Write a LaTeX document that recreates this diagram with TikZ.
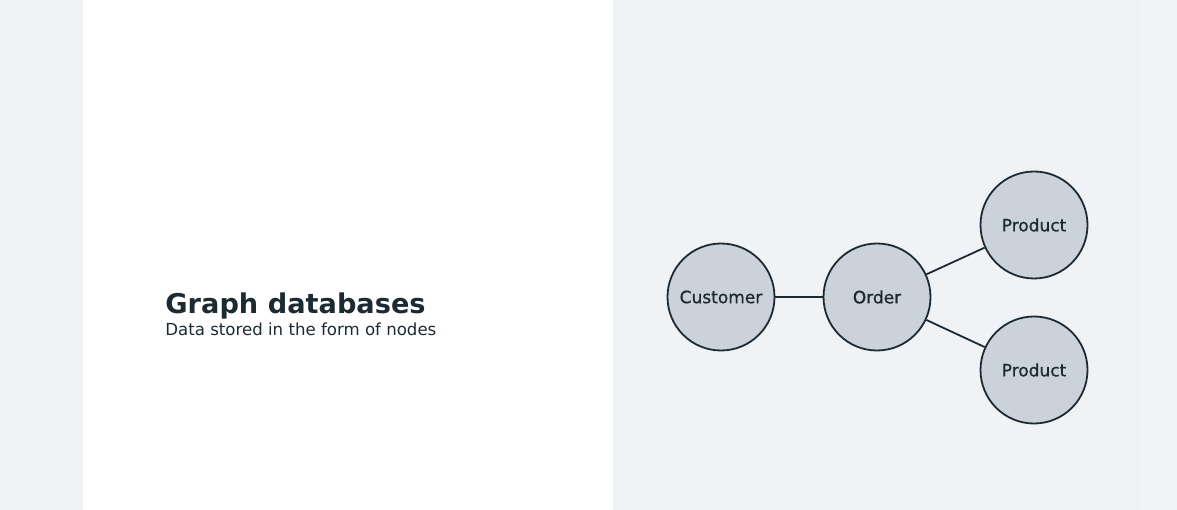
\documentclass[tikz,border=0pt]{standalone}
\usepackage{fontspec}
\setmainfont{DejaVu Sans}
\newfontfamily\labelfont{DejaVu Sans}[FakeBold=0.9]
\definecolor{ink}{HTML}{1C2B33}
\definecolor{bg}{HTML}{F0F3F6}
\definecolor{strip}{HTML}{F2F5F8}
\definecolor{nodefill}{HTML}{CBD2D9}
\begin{document}
\begin{tikzpicture}[x=1pt, y=-1pt, thick, main/.style = {draw = ink, circle, fill=nodefill, line width=1.8pt, minimum size=107pt, inner sep=0pt, text=ink, font=\labelfont\fontsize{17}{20}\selectfont}
            ]
            \useasboundingbox (0,0) rectangle (1177,510);
            \fill[bg] (0,0) rectangle (1177,510);
            \fill[white] (83,0) rectangle (613,510);
            \fill[strip] (1142,0) rectangle (1177,510);

            \node[anchor=base west, inner sep=0pt, text=ink, font=\fontsize{27.2}{30}\selectfont\bfseries] (title) at (165,313) {Graph databases};
            \node[anchor=base west, inner sep=0pt, text=ink, font=\fontsize{16.6}{19}\selectfont] (sub) at (165,335) {Data stored in the form of nodes};

            \node[main] (0) at (721, 297) {Customer};
            \node[main] (1) at (877, 297) {Order};
            \node[main] (2) at (1034, 225) {Product};
            \node[main] (3) at (1034, 370) {Product};

            \draw[-, ink, line width=1.8pt] (0) to (1);
            \draw[-, ink, line width=1.8pt] (1) to (2);
            \draw[-, ink, line width=1.8pt] (1) to (3);
\end{tikzpicture}
\end{document}
